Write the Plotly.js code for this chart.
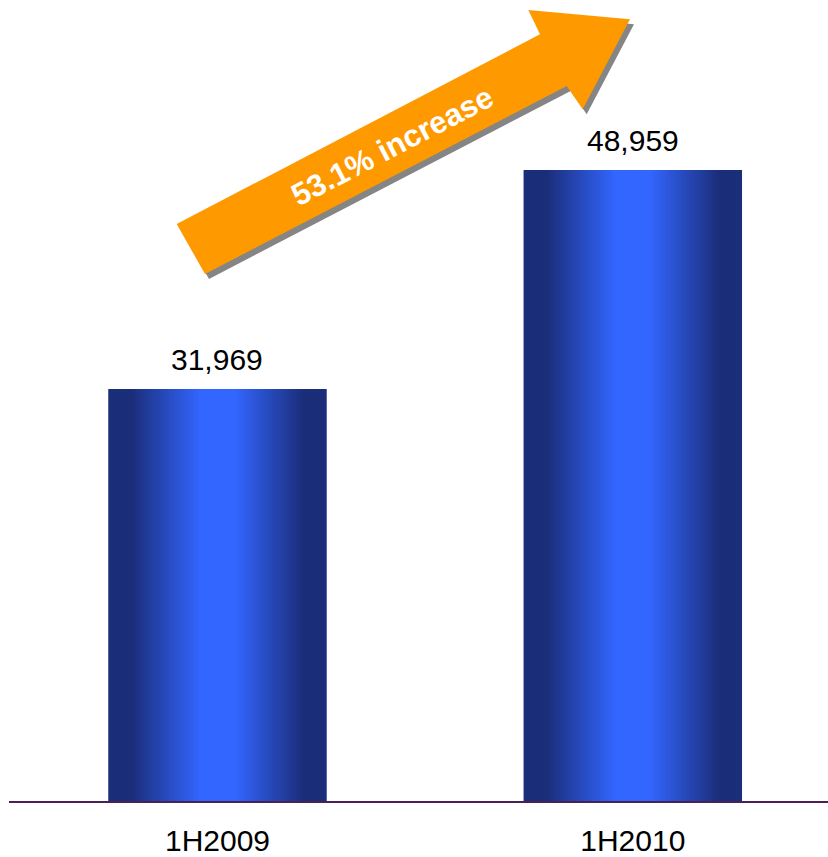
<!DOCTYPE html>
<html>
<head>
<meta charset="utf-8">
<script src="https://cdn.plot.ly/plotly-3.0.1.min.js"></script>
<style>html,body{margin:0;padding:0;background:#fff;}#chart{width:828px;height:857px;}</style>
</head>
<body>
<div id="chart"></div>
<script>
// ---- data ----
var categories = ["1H2009", "1H2010"];
var values = [31969, 48959];
var valueLabels = ["31,969", "48,959"];
var arrowLabel = "53.1% increase";

// ---- layout geometry ----
var W = 828, H = 857;
var mL = 9, mR = 0, mT = 0, mB = 56;
var plotW = W - mL - mR, plotH = H - mT - mB;
function px(x) { return (x - mL) / plotW; }
function py(y) { return (H - mB - y) / plotH; }

var barWidth = 0.526;
var dark = [27, 46, 122], bright = [51, 102, 255];
function mix(t) {
  var c = dark.map(function (d, i) { return Math.round(d + (bright[i] - d) * t); });
  return "rgb(" + c.join(",") + ")";
}
function profile(d) { // d: normalized distance from bar centre (0..1)
  var a = 0.17, b = 0.8;
  if (d <= a) return 1;
  if (d >= b) return 0;
  var s = (d - a) / (b - a);
  return 1 - s;
}

var traces = [];
var N = 40;
for (var k = 0; k < N; k++) {
  var f = 1 - k / N;
  traces.push({
    type: "bar",
    x: categories,
    y: values,
    width: barWidth * f,
    marker: { color: mix(profile(f)), line: { width: 0 } },
    hoverinfo: "skip",
    showlegend: false
  });
}

// arrow shape (decoration) in pixel coords
var arrowPts = [[176.7, 224], [540, 34.3], [528.3, 10], [630, 19.3], [582.7, 109.3], [566.7, 86], [205, 274]];
function pathFrom(pts, dx, dy) {
  return pts.map(function (p, i) {
    return (i ? "L" : "M") + px(p[0] + dx).toFixed(5) + "," + py(p[1] + dy).toFixed(5);
  }).join(" ") + " Z";
}

var annotations = categories.map(function (c, i) {
  return {
    x: c, y: values[i], xref: "x", yref: "y",
    text: valueLabels[i], showarrow: false,
    yanchor: "bottom", yshift: 11,
    font: { family: "Liberation Sans, Arial, sans-serif", size: 30, color: "#000" }
  };
});
annotations.push({
  x: px(391.5), y: py(146), xref: "paper", yref: "paper",
  text: "<b>" + arrowLabel + "</b>", showarrow: false,
  textangle: -27.5, xanchor: "center", yanchor: "middle",
  font: { family: "Liberation Sans, Arial, sans-serif", size: 31, color: "#ffffff" }
});

var layout = {
  width: W, height: H,
  margin: { l: mL, r: mR, t: mT, b: mB, pad: 0 },
  paper_bgcolor: "#ffffff", plot_bgcolor: "#ffffff",
  barmode: "overlay",
  showlegend: false,
  hovermode: false,
  xaxis: {
    type: "category",
    range: [-0.502, 1.470],
    showline: true, linecolor: "#4b2154", linewidth: 2,
    showgrid: false, zeroline: false, ticks: "",
    ticklabelstandoff: 12,
    tickfont: { family: "Liberation Sans, Arial, sans-serif", size: 30, color: "#000" },
    fixedrange: true
  },
  yaxis: {
    visible: false, range: [0, 62153], showgrid: false, zeroline: false, fixedrange: true
  },
  shapes: [
    { type: "path", xref: "paper", yref: "paper", path: pathFrom(arrowPts, 4, 5), fillcolor: "#858585", line: { width: 0 }, layer: "above" },
    { type: "path", xref: "paper", yref: "paper", path: pathFrom(arrowPts, 0, 0), fillcolor: "#ff9900", line: { width: 0 }, layer: "above" }
  ],
  annotations: annotations
};

Plotly.newPlot("chart", traces, layout, { displayModeBar: false, staticPlot: true });
</script>
</body>
</html>
